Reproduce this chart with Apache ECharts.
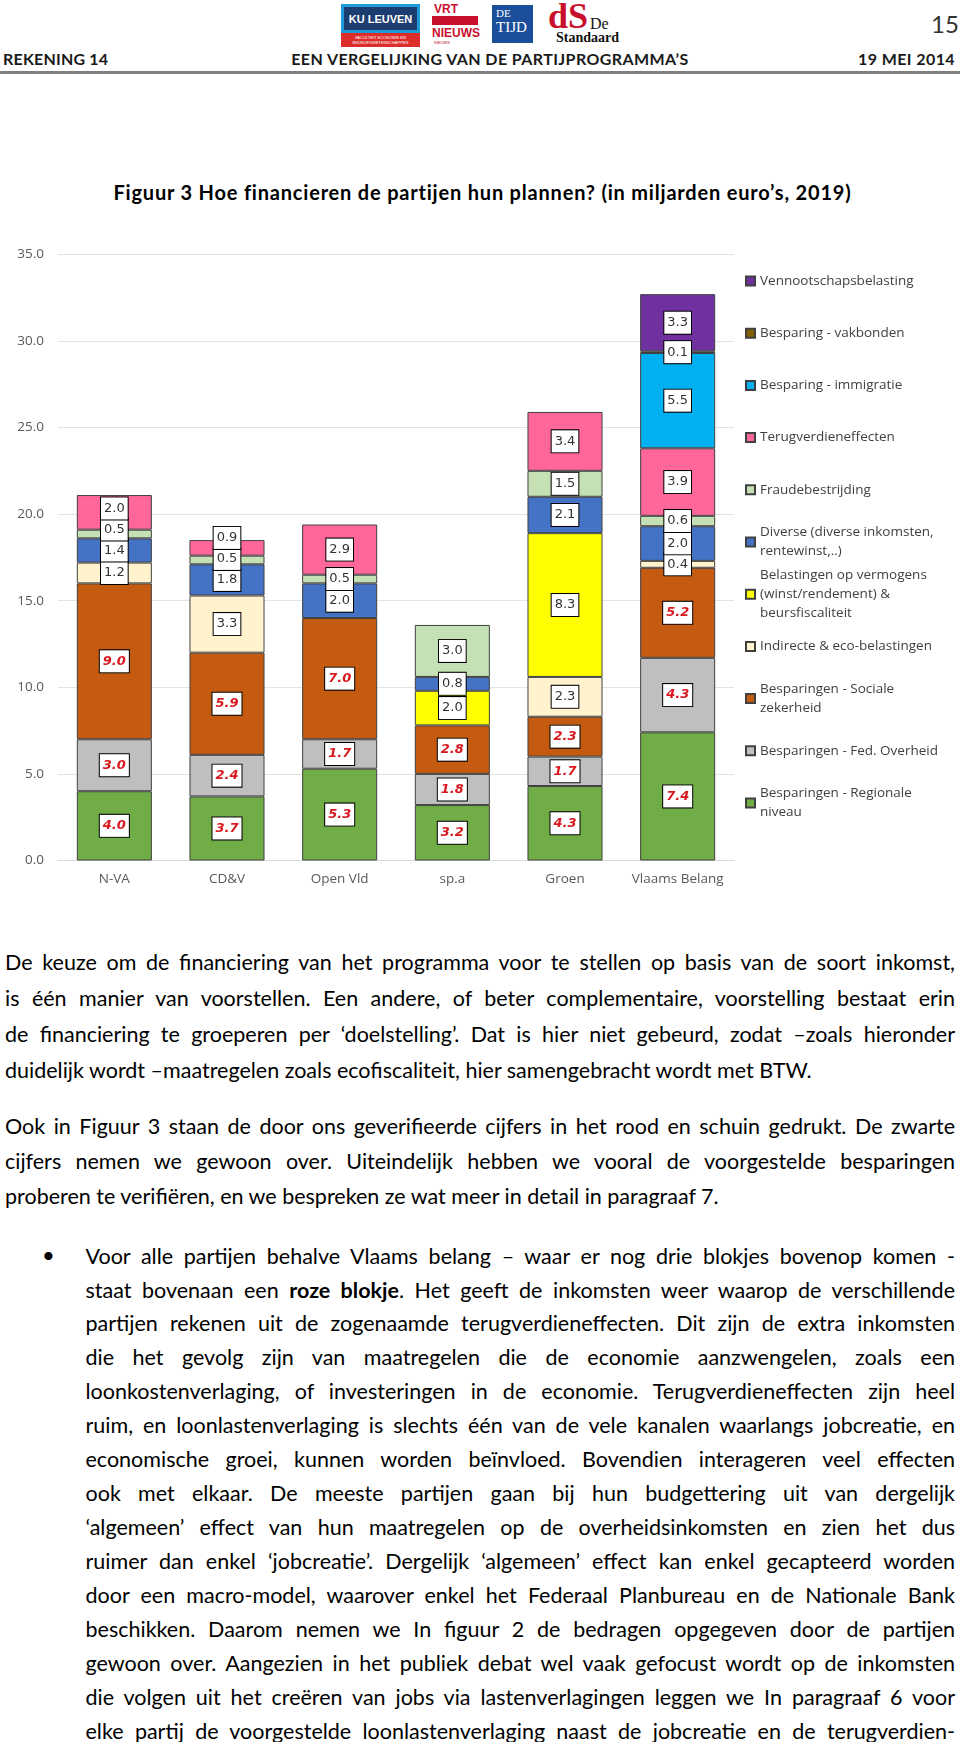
<!DOCTYPE html>
<html><head><meta charset="utf-8">
<script src="https://cdn.jsdelivr.net/npm/echarts@6/dist/echarts.min.js"></script>
<style>
html,body{margin:0;padding:0;background:#fff;}
#page{position:relative;width:960px;height:1742px;overflow:hidden;font-family:Lato,'Open Sans',sans-serif;color:#000;}
.abs{position:absolute;}
.hdr{position:absolute;top:50px;font-weight:bold;font-size:16px;line-height:18px;color:#1a1a1a;white-space:nowrap;}
.ln{position:absolute;white-space:nowrap;text-align:justify;text-align-last:justify;line-height:24px;color:#000;}
.ln.last{text-align:left;text-align-last:left;}
#chart{position:absolute;left:0;top:220px;width:960px;height:700px;}
</style></head>
<body><div id="page">
<!-- logos -->
<div class="abs" style="left:341px;top:4px;width:79px;height:29px;background:#1e9ad6;"></div>
<div class="abs" style="left:344px;top:7px;width:73px;height:23px;background:#1c3d70;color:#fff;font:bold 11px 'Liberation Sans Narrow',Arial;display:flex;align-items:center;justify-content:center;">KU LEUVEN</div>
<div class="abs" style="left:341px;top:33px;width:79px;height:14px;background:#dd2d2b;color:#fff;font:4px Arial;line-height:5px;text-align:center;padding-top:2px;box-sizing:border-box;">FACULTEIT ECONOMIE EN<br>BEDRIJFSWETENSCHAPPEN</div>
<div class="abs" style="left:434px;top:2px;color:#c8102e;font:bold 12px 'Liberation Sans Narrow',Arial;">VRT</div>
<div class="abs" style="left:432px;top:16px;width:46px;height:9px;background:#c8102e;"></div>
<div class="abs" style="left:432px;top:26px;color:#c8102e;font:bold 12px 'Liberation Sans Narrow',Arial;">NIEUWS</div>
<div class="abs" style="left:434px;top:40px;color:#c8102e;font:4px Arial;">NIEUWS</div>
<div class="abs" style="left:492px;top:5px;width:41px;height:38px;background:#1c4f9a;color:#fff;font-family:'Liberation Serif',serif;">
  <div style="position:absolute;left:4px;top:2px;font-size:11px;line-height:12px;">DE</div>
  <div style="position:absolute;left:4px;top:14px;font-size:15px;line-height:16px;">TIJD</div>
</div>
<div class="abs" style="left:548px;top:-4px;color:#c8102e;font:bold 36px 'Liberation Serif',serif;line-height:40px;">dS</div>
<div class="abs" style="left:590px;top:16px;color:#111;font:16px 'Liberation Serif',serif;line-height:16px;">De</div>
<div class="abs" style="left:556px;top:30px;color:#111;font:bold 14px 'Liberation Serif',serif;line-height:15px;">Standaard</div>
<div class="abs" style="left:931px;top:10px;font-size:24px;line-height:28px;color:#333;">15</div>
<div class="hdr" style="left:3px;letter-spacing:0.2px;">REKENING 14</div>
<div class="hdr" style="left:0;width:980px;text-align:center;letter-spacing:0.4px;">EEN VERGELIJKING VAN DE PARTIJPROGRAMMA’S</div>
<div class="hdr" style="right:5px;letter-spacing:0.4px;">19 MEI 2014</div>
<div class="abs" style="left:0;top:71px;width:960px;height:3px;background:#7f7f7f;"></div>
<div class="abs" style="left:0;top:180px;width:965px;text-align:center;font-weight:bold;font-size:20px;letter-spacing:0.8px;line-height:24px;white-space:nowrap;">Figuur 3 Hoe financieren de partijen hun plannen? (in miljarden euro’s, 2019)</div>
<div id="chart"></div>
<div id="text"></div>
<div class="abs" style="left:42px;top:1243px;font-size:22px;line-height:24px;">•</div>
</div>
<script>
// ---- data ----
const categories = ['N-VA', 'CD&V', 'Open Vld', 'sp.a', 'Groen', 'Vlaams Belang'];
const regionaleNiveau   = [4.0, 3.7, 5.3, 3.2, 4.3, 7.4];
const fedOverheid       = [3.0, 2.4, 1.7, 1.8, 1.7, 4.3];
const socialeZekerheid  = [9.0, 5.9, 7.0, 2.8, 2.3, 5.2];
const indirecteEco      = [1.2, 3.3, null, null, 2.3, 0.4];
const vermogens         = [null, null, null, 2.0, 8.3, null];
const diverse           = [1.4, 1.8, 2.0, 0.8, 2.1, 2.0];
const fraude            = [0.5, 0.5, 0.5, 3.0, 1.5, 0.6];
const terugverdien      = [2.0, 0.9, 2.9, null, 3.4, 3.9];
const immigratie        = [null, null, null, null, null, 5.5];
const vakbonden         = [null, null, null, null, null, 0.1];
const vennootschap      = [null, null, null, null, null, 3.3];
const yMin = 0, yMax = 35, yInterval = 5;

const seriesDefs = [
  {name: 'Besparingen - Regionale\nniveau', data: regionaleNiveau, color: '#70ad47', verified: true},
  {name: 'Besparingen - Fed. Overheid', data: fedOverheid, color: '#bfbfbf', verified: true},
  {name: 'Besparingen - Sociale\nzekerheid', data: socialeZekerheid, color: '#c55a11', verified: true},
  {name: 'Indirecte & eco-belastingen', data: indirecteEco, color: '#fff2cc', verified: false},
  {name: 'Belastingen op vermogens\n(winst/rendement) &\nbeursfiscaliteit', data: vermogens, color: '#ffff00', verified: false},
  {name: 'Diverse (diverse inkomsten,\nrentewinst,..)', data: diverse, color: '#4472c4', verified: false},
  {name: 'Fraudebestrijding', data: fraude, color: '#c5e0b4', verified: false},
  {name: 'Terugverdieneffecten', data: terugverdien, color: '#ff6699', verified: false},
  {name: 'Besparing - immigratie', data: immigratie, color: '#00b0f0', verified: false},
  {name: 'Besparing - vakbonden', data: vakbonden, color: '#806000', verified: false},
  {name: 'Vennootschapsbelasting', data: vennootschap, color: '#7030a0', verified: false}
];

// ---- text ----
const para1 = [
 'De keuze om de financiering van het programma voor te stellen op basis van de soort inkomst,',
 'is één manier van voorstellen. Een andere, of beter complementaire, voorstelling bestaat erin',
 'de financiering te groeperen per ‘doelstelling’. Dat is hier niet gebeurd, zodat –zoals hieronder',
 'duidelijk wordt –maatregelen zoals ecofiscaliteit, hier samengebracht wordt met BTW.'];
const para2 = [
 'Ook in Figuur 3 staan de door ons geverifieerde cijfers in het rood en schuin gedrukt. De zwarte',
 'cijfers nemen we gewoon over. Uiteindelijk hebben we vooral de voorgestelde besparingen',
 'proberen te verifiëren, en we bespreken ze wat meer in detail in paragraaf 7.'];
const para3 = [
 'Voor alle partijen behalve Vlaams belang – waar er nog drie blokjes bovenop komen -',
 'staat bovenaan een <b>roze blokje</b>. Het geeft de inkomsten weer waarop de verschillende',
 'partijen rekenen uit de zogenaamde terugverdieneffecten. Dit zijn de extra inkomsten',
 'die het gevolg zijn van maatregelen die de economie aanzwengelen, zoals een',
 'loonkostenverlaging, of investeringen in de economie. Terugverdieneffecten zijn heel',
 'ruim, en loonlastenverlaging is slechts één van de vele kanalen waarlangs jobcreatie, en',
 'economische groei, kunnen worden beïnvloed. Bovendien interageren veel effecten',
 'ook met elkaar. De meeste partijen gaan bij hun budgettering uit van dergelijk',
 '‘algemeen’ effect van hun maatregelen op de overheidsinkomsten en zien het dus',
 'ruimer dan enkel ‘jobcreatie’. Dergelijk ‘algemeen’ effect kan enkel gecapteerd worden',
 'door een macro-model, waarover enkel het Federaal Planbureau en de Nationale Bank',
 'beschikken. Daarom nemen we In figuur 2 de bedragen opgegeven door de partijen',
 'gewoon over. Aangezien in het publiek debat wel vaak gefocust wordt op de inkomsten',
 'die volgen uit het creëren van jobs via lastenverlagingen leggen we In paragraaf 6 voor',
 'elke partij de voorgestelde loonlastenverlaging naast de jobcreatie en de terugverdien-'];

(function(){
  const host = document.getElementById('text');
  const blocks = [
    {lines:para1, left:5, width:950, y0:962, lh:36, lastLeft:true},
    {lines:para2, left:5, width:950, y0:1125.6, lh:35, lastLeft:true},
    {lines:para3, left:85.5, width:869.5, y0:1255.6, lh:33.93, lastLeft:false}
  ];
  // measure natural widths to pick a font size that fills the justified lines snugly
  const BASE = 20;
  function natural(html){
    const s = document.createElement('span');
    s.style.cssText = 'position:absolute;visibility:hidden;white-space:nowrap;font-family:Lato;font-size:'+BASE+'px';
    s.innerHTML = html; document.body.appendChild(s);
    const w = s.getBoundingClientRect().width; s.remove(); return w;
  }
  let ratio = Infinity;
  blocks.forEach(b=>b.lines.forEach((t,i)=>{
    if (b.lastLeft && i===b.lines.length-1) return;
    ratio = Math.min(ratio, b.width / natural(t));
  }));
  const fs = Math.min(21.5, BASE * ratio * 0.997);
  blocks.forEach(b=>b.lines.forEach((t,i)=>{
    const d = document.createElement('div');
    d.className = 'ln' + ((b.lastLeft && i===b.lines.length-1) ? ' last' : '');
    d.style.left = b.left+'px'; d.style.width = b.width+'px';
    d.style.fontSize = fs+'px';
    d.style.top = (b.y0 + i*b.lh - 12)+'px';
    d.innerHTML = t;
    host.appendChild(d);
  }));
})();

// ---- chart ----
const CH_TOP = 220;
const chart = echarts.init(document.getElementById('chart'), null, {renderer:'canvas'});
const LH = 19;
const legendNames = seriesDefs.map(d=>d.name).slice().reverse();
const legends = legendNames.map((nm,i)=>{
  const n = nm.split('\n').length;
  const y1 = 281 + 52.2*i - CH_TOP;
  return {
    data:[nm], orient:'vertical', left:745, top: y1 - (2*n-1)*LH/2,
    itemWidth:9, itemHeight:9, padding:0, selectedMode:false, icon:'rect',
    textStyle:{fontFamily:'Open Sans', fontSize:13.5, color:'#404040', lineHeight:LH, padding:[(n-1)*LH,0,0,0]}
  };
});

function buildSeries(offsets){
  return seriesDefs.map((d,si)=>({
    name: d.name, type:'bar', stack:'total', barCategoryGap:'33.4%',
    itemStyle:{color:d.color, borderColor:'#404040', borderWidth:1},
    label:{
      show:true, position:'inside',
      formatter: p => (p.value==null ? '' : Number(p.value).toFixed(1)),
      backgroundColor:'#fff', borderColor:'#000', borderWidth:1,
      padding:[3,3,3,3], lineHeight:16,
      fontFamily:'DejaVu Sans', fontSize:13,
      color: d.verified ? '#d7191f' : '#333',
      fontWeight: d.verified ? 'bold' : 'normal',
      fontStyle: d.verified ? 'italic' : 'normal'
    },
    data: d.data.map((v,ci)=>{
      const off = offsets ? offsets[si][ci] : 0;
      return off ? {value:v, label:{offset:[0,off]}} : v;
    })
  }));
}

const option = {
  animation:false,
  grid:{left:58, right:226, top:254.3-CH_TOP, bottom:700-(860.5-CH_TOP)},
  legend: legends,
  xAxis:{type:'category', data:categories,
    axisLine:{lineStyle:{color:'#d9d9d9'}}, axisTick:{show:false},
    axisLabel:{color:'#595959', fontFamily:'Open Sans', fontSize:13.5, margin:12, interval:0}},
  yAxis:{type:'value', min:yMin, max:yMax, interval:yInterval,
    axisLine:{show:false}, axisTick:{show:false},
    splitLine:{lineStyle:{color:'#e3e3e3', width:1}},
    axisLabel:{color:'#595959', fontFamily:'Open Sans', fontSize:13.5, margin:14,
      formatter: v => v.toFixed(1)}},
  series: buildSeries(null)
};
chart.setOption(option);

// resolve overlapping labels per column (push upward), like the spreadsheet does
const BOX = 21;
const offsets = seriesDefs.map(()=>categories.map(()=>0));
categories.forEach((c,ci)=>{
  let cum = 0, prevY = null;
  seriesDefs.forEach((d,si)=>{
    const v = d.data[ci];
    if (v == null) return;
    const mid = cum + v/2; cum += v;
    const py = chart.convertToPixel({yAxisIndex:0}, mid);
    let y = py;
    if (prevY !== null && prevY - y < BOX) y = prevY - BOX;
    offsets[si][ci] = y - py;
    prevY = y;
  });
});
chart.setOption({series: buildSeries(offsets)});
</script>
</body></html>
